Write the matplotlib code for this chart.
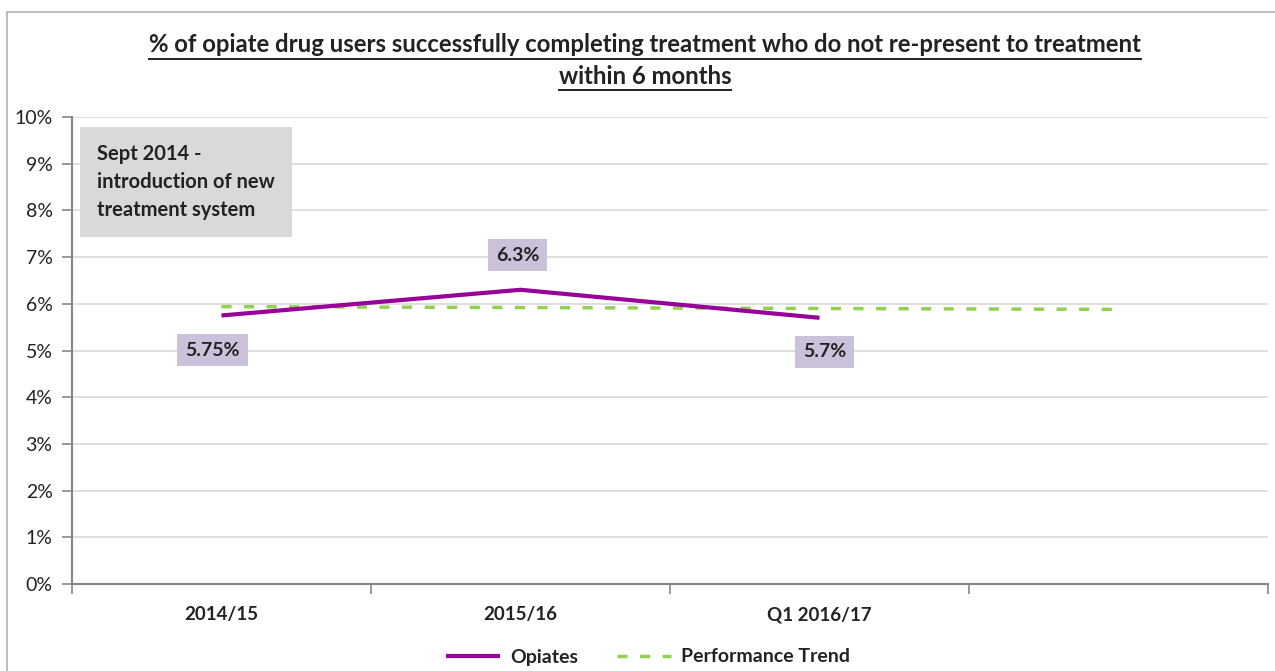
import numpy as np
import matplotlib
matplotlib.use('Agg')
import matplotlib.pyplot as plt
from matplotlib.patches import Rectangle
from matplotlib.lines import Line2D

plt.rcParams['font.family'] = ['Lato', 'DejaVu Sans']

categories = ['2014/15', '2015/16', 'Q1 2016/17', '']
opiates = [5.75, 6.3, 5.7, np.nan]
trend = [5.94, 5.92, 5.90, 5.88]
opiate_labels = ['5.75%', '6.3%', '5.7%']
label_offsets = [(-6.5, -25), (-2, 25), (3.5, -24.5)]  # points

purple = '#990099'
green = '#92d050'
dark = '#222222'

fig = plt.figure(figsize=(12.75, 6.71), dpi=100)
# chart area border
fig.patches.append(Rectangle((7 / 1275, -0.1), 1.2, 1 - 12 / 671 + 0.1, transform=fig.transFigure,
                             fill=False, edgecolor='#b0b0b0', linewidth=1.2))

ax = fig.add_axes([72 / 1275, 87 / 671, 1196 / 1275, 467 / 671])
x = np.arange(len(categories))
ax.plot(x, trend, color=green, lw=2.5, ls=(0, (2.9, 3.6)), label='Performance Trend', zorder=2)
ax.plot(x, opiates, color=purple, lw=3, label='Opiates', solid_capstyle='butt', zorder=3)

for xi, (v, lab, off) in enumerate(zip(opiates, opiate_labels, label_offsets)):
    ax.annotate(lab, (xi, v), xytext=off, textcoords='offset points',
                ha='center', va='center', fontsize=14, fontweight='bold', color=dark,
                bbox=dict(boxstyle='square,pad=0.4', fc='#ccc1da', ec='none'), zorder=4)

ax.set_xlim(-0.5, 3.5)
ax.set_ylim(0, 10)
ax.set_yticks(np.arange(0, 11, 1))
ax.set_yticklabels([f'{i}%' for i in range(11)], fontsize=14, color=dark)
ax.set_xticks(np.arange(-0.5, 4, 1))
ax.set_xticklabels([])
ax.set_xticks(x, minor=True)
ax.set_xticklabels(categories, minor=True, fontsize=13.5, fontweight='bold', color=dark)
ax.tick_params(axis='x', which='major', length=7, color='#868686', width=1.2)
ax.tick_params(axis='x', which='minor', length=0, pad=16)
ax.tick_params(axis='y', length=7, color='#868686', width=1.2, pad=7)
ax.grid(axis='y', color='#d9d9d9', lw=1.2)
ax.set_axisbelow(True)
for s in ['top', 'right']:
    ax.spines[s].set_visible(False)
for s in ['left', 'bottom']:
    ax.spines[s].set_color('#868686')
    ax.spines[s].set_linewidth(1.5)

# note box
ax.text(25 / 1196, 440 / 467, 'Sept 2014 -\nintroduction of new\ntreatment system', transform=ax.transAxes,
        ha='left', va='top', fontsize=14.5, fontweight='bold', color=dark, linespacing=1.5,
        bbox=dict(boxstyle='square,pad=0.85', fc='#d9d9d9', ec='none'))

# title with underline
title_lines = ['% of opiate drug users successfully completing treatment who do not re-present to treatment',
               'within 6 months']
title_y = [1 - 45 / 671, 1 - 76 / 671]
fig.canvas.draw()
renderer = fig.canvas.get_renderer()
for t, ty in zip(title_lines, title_y):
    txt = fig.text(645 / 1275, ty, t, ha='center', va='center', fontsize=17.2, fontweight='bold', color=dark)
    bb = txt.get_window_extent(renderer).transformed(fig.transFigure.inverted())
    fig.add_artist(Line2D([bb.x0, bb.x1], [bb.y0 - 0.003, bb.y0 - 0.003], transform=fig.transFigure,
                          color=dark, lw=1.4))

handles, labels = ax.get_legend_handles_labels()
leg = fig.legend(handles[::-1], labels[::-1], loc='center', bbox_to_anchor=(648 / 1275, 1 - 657 / 671),
                 ncol=2, frameon=False, fontsize=14, handlelength=2.8, handletextpad=0.5, columnspacing=2.0)
for t in leg.get_texts():
    t.set_fontweight('bold')
    t.set_color(dark)

fig.savefig('out.png', dpi=100)
